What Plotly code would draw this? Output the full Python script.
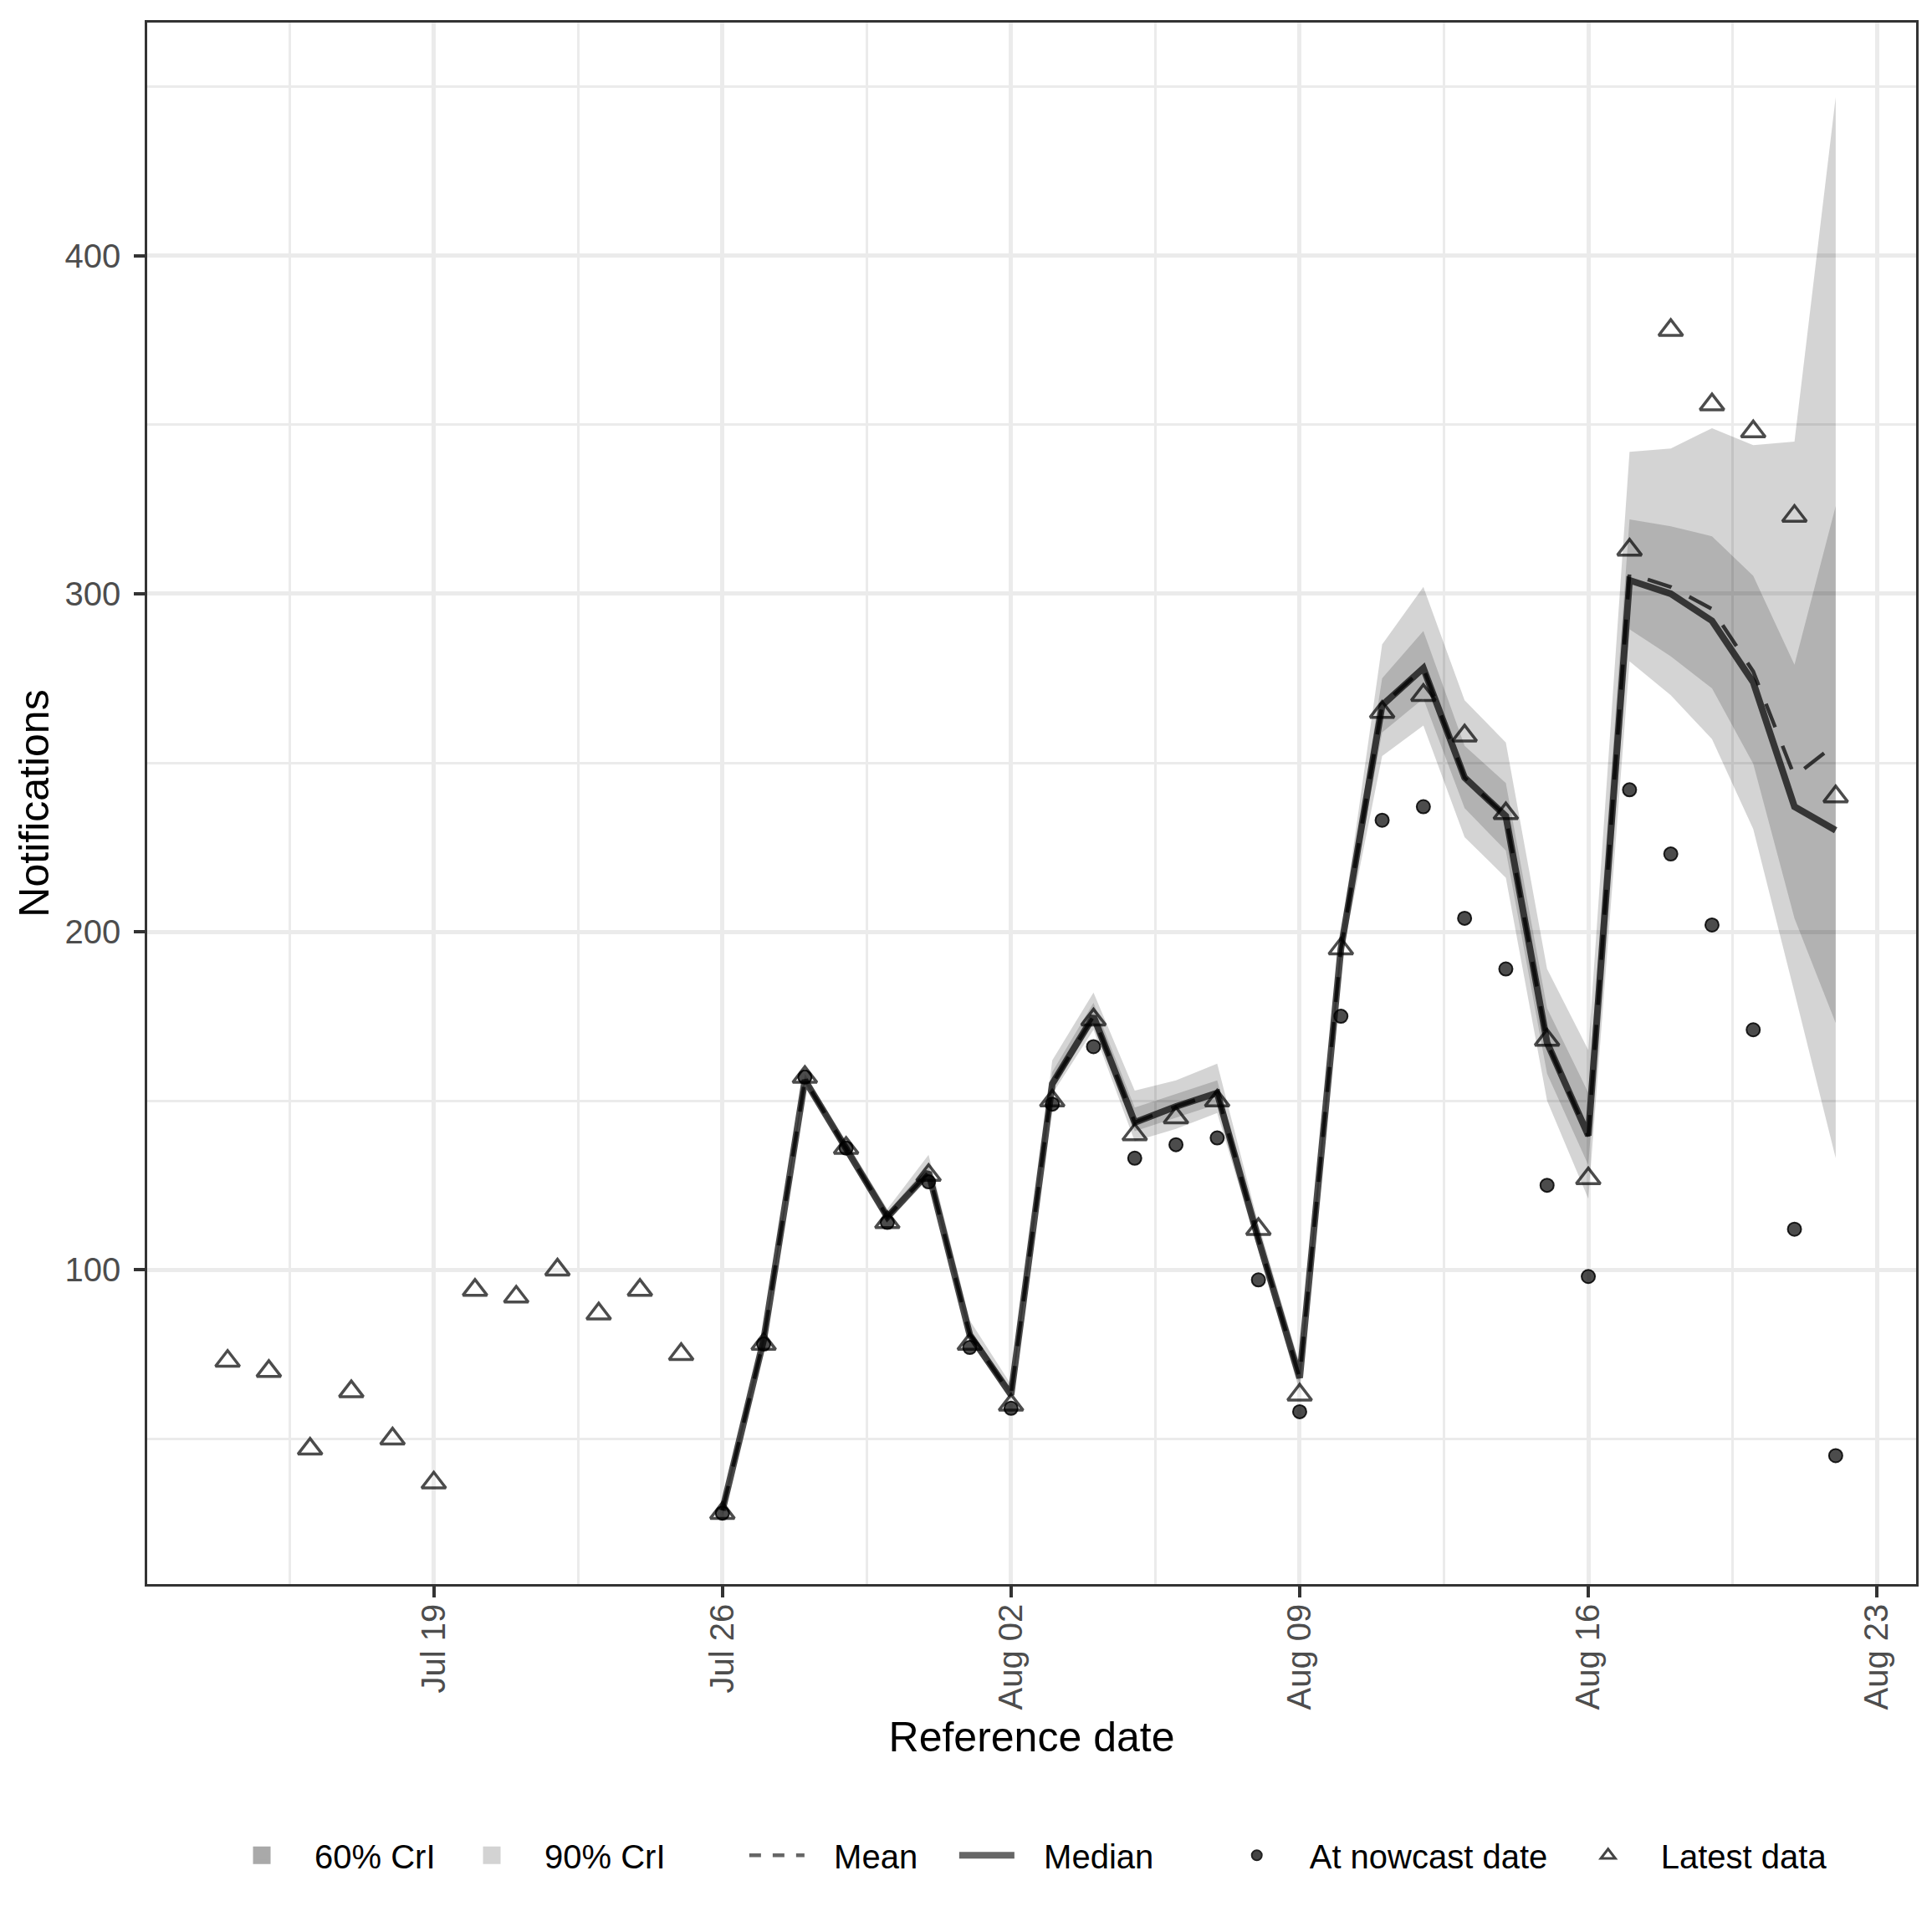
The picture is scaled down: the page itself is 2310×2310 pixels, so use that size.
import pandas as pd
import plotly.graph_objects as go

# reference dates
dates = pd.date_range("2021-07-14", "2021-08-22", freq="D")
nowcast_dates = pd.date_range("2021-07-26", "2021-08-22", freq="D")

# latest available notifications (triangles)
latest = [73, 70, 47, 64, 50, 37, 94, 92, 100, 87, 94, 75,
          28, 78, 157, 136, 114, 128, 78, 60, 150, 174, 140, 145, 150, 112, 63,
          195, 265, 270, 258, 235, 168, 127, 313, 378, 356, 348, 323, 240]

# notifications as known at nowcast date (dots)
at_nowcast = [28, 78, 157, 136, 114, 126, 77, 59, 149, 166, 133, 137, 139, 97, 58,
              175, 233, 237, 204, 189, 125, 98, 242, 223, 202, 171, 112, 45]

# nowcast summaries
median = [28.8, 79.2, 156.1, 135.8, 115.6, 128.8, 80.7, 63.0, 155, 175, 143.6, 148.3,
          152.3, 109, 68, 195, 267, 278, 245.6, 234.2, 167.2, 139.7, 304, 300, 292,
          273.8, 237, 230]
mean = [28.8, 79.2, 156.1, 135.8, 115.6, 128.8, 80.7, 63.0, 155, 175, 143.6, 148.3,
        152.3, 109, 68, 195, 267, 278, 245.6, 234.2, 167.2, 139.5, 306, 302, 295.5,
        277, 246, 255.5]
q05 = [27, 77, 155, 134, 114, 127, 79, 61.5, 152, 171, 138, 141.7, 146.4, 105.8, 64,
       191, 252, 261, 228, 216, 150, 121, 280, 270, 257, 230.4, 182, 133]
q95 = [31, 81.5, 158, 138, 118, 134, 85, 66, 162, 182, 153, 156, 161, 113.5, 72,
       199, 285, 302, 268.5, 256, 189, 165, 342, 343, 349, 344, 345, 447]
q20 = [28, 78, 155.5, 135, 115, 128, 80, 62.5, 153.5, 172.8, 141, 145, 149, 107.5, 66,
       193, 259, 269, 236.6, 224, 158, 131, 289.5, 281.5, 272, 249.7, 204, 173]
q80 = [30, 80.5, 157, 137, 117, 131, 82.5, 64.5, 158.5, 179, 148, 152, 156, 111, 70,
       197, 275, 289, 255, 244, 177.4, 152.4, 322, 320, 317, 305.3, 279, 326]

x_tick_dates = ["2021-07-19", "2021-07-26", "2021-08-02", "2021-08-09", "2021-08-16", "2021-08-23"]
x_tick_labels = ["Jul 19", "Jul 26", "Aug 02", "Aug 09", "Aug 16", "Aug 23"]
y_ticks = [100, 200, 300, 400]

FONT = "Liberation Sans"
line_col = "rgba(0,0,0,0.7)"
pad = "\u00a0\u00a0\u2009"  # gap between line keys and their labels

fig = go.Figure()

# 90% band
fig.add_trace(go.Scatter(x=nowcast_dates, y=q05, mode="lines", line=dict(width=0),
                         showlegend=False, hoverinfo="skip"))
fig.add_trace(go.Scatter(x=nowcast_dates, y=q95, mode="lines", line=dict(width=0),
                         fill="tonexty", fillcolor="rgba(0,0,0,0.17)", showlegend=False))
# 60% band
fig.add_trace(go.Scatter(x=nowcast_dates, y=q20, mode="lines", line=dict(width=0),
                         showlegend=False, hoverinfo="skip"))
fig.add_trace(go.Scatter(x=nowcast_dates, y=q80, mode="lines", line=dict(width=0),
                         fill="tonexty", fillcolor="rgba(0,0,0,0.16)", showlegend=False))

fig.add_trace(go.Scatter(x=nowcast_dates, y=median, mode="lines",
                         line=dict(color=line_col, width=8), showlegend=False))
fig.add_trace(go.Scatter(x=nowcast_dates, y=mean, mode="lines",
                         line=dict(color="rgba(0,0,0,0.72)", width=4.5, dash="30px,24px"),
                         showlegend=False))

fig.add_trace(go.Scatter(x=nowcast_dates, y=at_nowcast, mode="markers",
                         marker=dict(symbol="circle", size=16, color="rgba(0,0,0,0.7)",
                                     line=dict(color="rgba(0,0,0,0.85)", width=2)),
                         showlegend=False))
fig.add_trace(go.Scatter(x=dates, y=latest, mode="markers",
                         marker=dict(symbol="triangle-up-open", size=25,
                                     color="rgba(0,0,0,0.7)", line=dict(width=3.5)),
                         showlegend=False))

# legend entries
fig.add_trace(go.Scatter(x=[None], y=[None], mode="markers", name="60% CrI", legend="legend",
                         marker=dict(symbol="square", size=16, color="#a9a9a9",
                                     line=dict(color="#a9a9a9", width=5))))
fig.add_trace(go.Scatter(x=[None], y=[None], mode="markers", name="90% CrI", legend="legend",
                         marker=dict(symbol="square", size=16, color="#d3d3d3",
                                     line=dict(color="#d3d3d3", width=5))))
fig.add_trace(go.Scatter(x=[None], y=[None], mode="lines", name=pad + "Mean", legend="legend2",
                         line=dict(color="#666666", width=4.5, dash="14px,14px")))
fig.add_trace(go.Scatter(x=[None], y=[None], mode="lines", name=pad + "Median", legend="legend2",
                         line=dict(color="#666666", width=8)))
fig.add_trace(go.Scatter(x=[None], y=[None], mode="markers", name="At nowcast date",
                         legend="legend3",
                         marker=dict(symbol="circle", size=12, color="#444444",
                                     line=dict(color="#222222", width=2))))
fig.add_trace(go.Scatter(x=[None], y=[None], mode="markers", name="Latest data",
                         legend="legend3",
                         marker=dict(symbol="triangle-up-open", size=15, color="#444444",
                                     line=dict(width=3))))

leg_common = dict(orientation="h", yanchor="middle", y=-0.1737, xanchor="left",
                  font=dict(family=FONT, size=40, color="black"),
                  bgcolor="rgba(0,0,0,0)", traceorder="normal")

fig.update_layout(
    width=2310, height=2310,
    margin=dict(l=168, r=27, t=19, b=424),
    paper_bgcolor="white", plot_bgcolor="white",
    font=dict(family=FONT, color="black"),
    legend=dict(x=0.035, entrywidth=144, itemwidth=116, **leg_common),
    legend2=dict(x=0.338, entrywidth=170, itemwidth=66, **leg_common),
    legend3=dict(x=0.5975, entrywidth=289, itemwidth=116, **leg_common),
    xaxis=dict(
        type="date",
        range=["2021-07-12 01:12", "2021-08-23 22:48"],
        tickmode="array", tickvals=x_tick_dates, ticktext=x_tick_labels,
        tickangle=-90, ticks="outside", ticklen=13, tickwidth=4, tickcolor="#333333",
        tickfont=dict(family=FONT, size=40, color="#4d4d4d"), ticklabelstandoff=-8,
        showgrid=True, gridcolor="#ebebeb", gridwidth=5,
        minor=dict(tick0="2021-07-15 12:00", dtick=7 * 86400000, showgrid=True,
                   gridcolor="#ebebeb", gridwidth=2.5, ticks=""),
        showline=True, linecolor="#333333", linewidth=2.5, mirror=True,
        zeroline=False,
        title=dict(text="Reference date", font=dict(family=FONT, size=50, color="black"),
                   standoff=16),
    ),
    yaxis=dict(
        range=[7, 469],
        tickmode="array", tickvals=y_ticks,
        ticks="outside", ticklen=13, tickwidth=4, tickcolor="#333333",
        tickfont=dict(family=FONT, size=40, color="#4d4d4d"), ticklabelstandoff=8,
        showgrid=True, gridcolor="#ebebeb", gridwidth=5,
        minor=dict(tickvals=[50, 150, 250, 350, 450], showgrid=True,
                   gridcolor="#ebebeb", gridwidth=2.5, ticks=""),
        showline=True, linecolor="#333333", linewidth=2.5, mirror=True,
        zeroline=False,
        title=dict(text="Notifications", font=dict(family=FONT, size=50, color="black"),
                   standoff=4),
    ),
)

fig.write_html("out.html")
